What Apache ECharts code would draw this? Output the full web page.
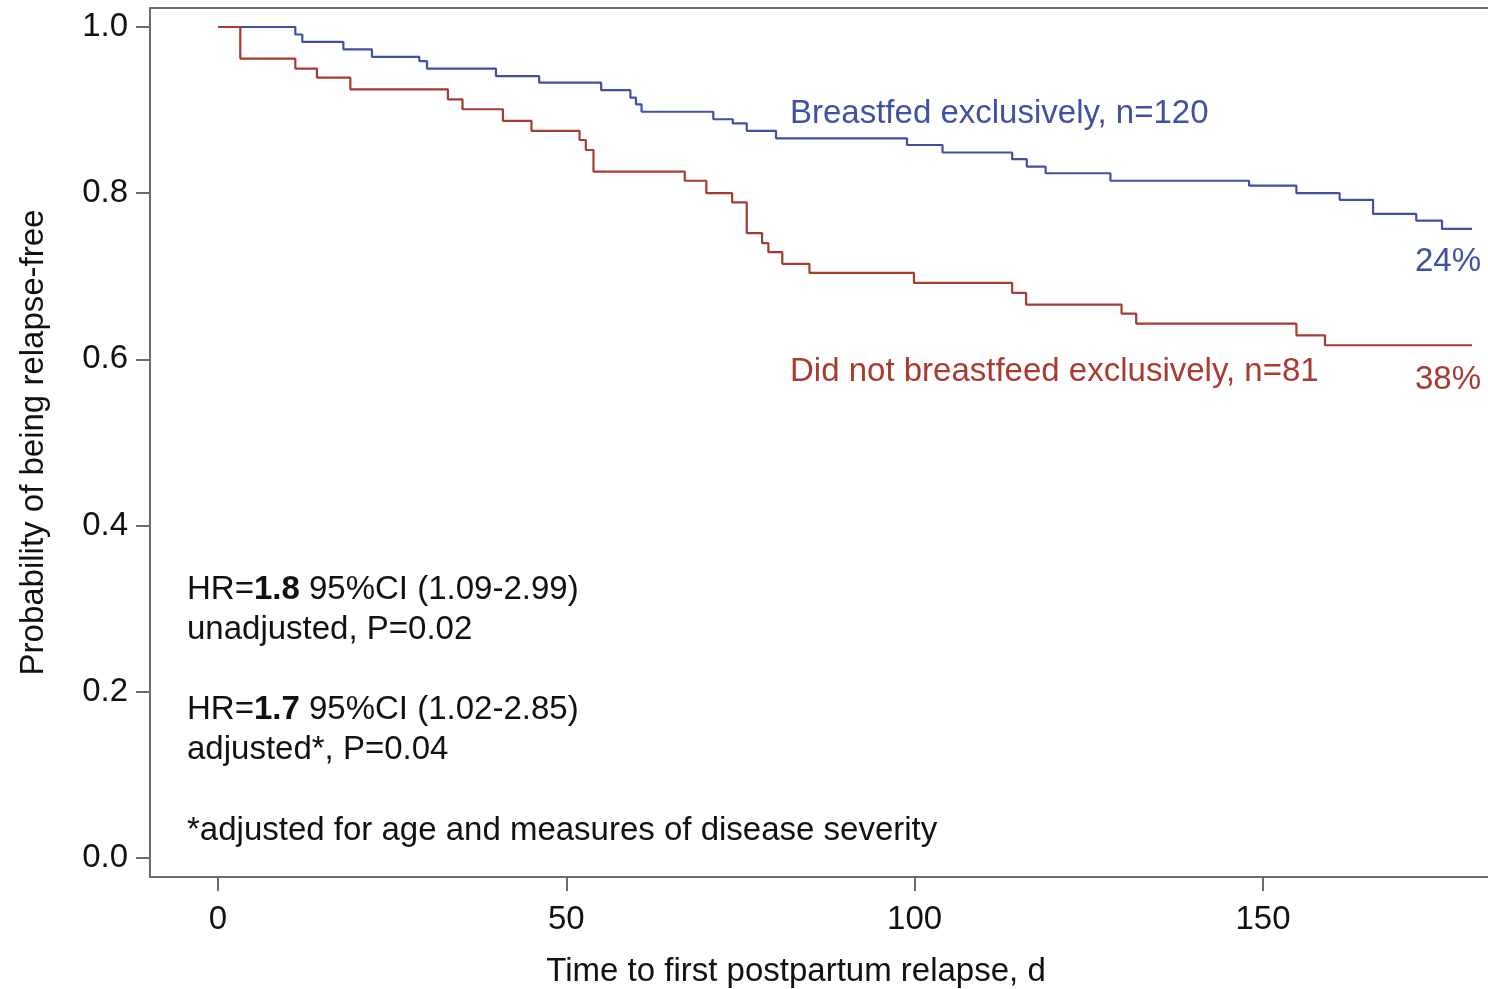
<!DOCTYPE html>
<html>
<head>
<meta charset="utf-8">
<script src="https://cdn.jsdelivr.net/npm/echarts@6/dist/echarts.min.js"></script>
<style>
  html, body { margin: 0; padding: 0; background: #fff; }
  #chart { width: 1488px; height: 989px; }
</style>
</head>
<body>
<div id="chart"></div>
<script>
// Kaplan-Meier steps (days, survival)
var blueDays = [0, 11.1, 12.1, 18, 22.1, 28.9, 30, 39.9, 46.1, 55, 59.2, 60, 60.8, 71.1, 73.9, 75.9, 80.1, 98.9, 104, 114, 116.1, 118.8, 128.1, 148, 154.8, 161, 165.8, 172, 175.7, 180];
var blueSurv = [1.0, 0.991, 0.982, 0.973, 0.964, 0.959, 0.950, 0.941, 0.933, 0.924, 0.915, 0.907, 0.898, 0.889, 0.884, 0.875, 0.866, 0.858, 0.849, 0.841, 0.832, 0.824, 0.815, 0.809, 0.800, 0.792, 0.775, 0.767, 0.757, 0.757];
var redDays = [0, 3.2, 11.1, 14.2, 19, 33, 35.1, 40.9, 45, 51.9, 52.8, 53.9, 67, 70.1, 73.8, 75.9, 78.1, 79, 81, 84.9, 99.9, 114, 116, 129.7, 131.8, 154.8, 158.9, 180];
var redSurv = [1.0, 0.962, 0.950, 0.939, 0.925, 0.913, 0.901, 0.887, 0.875, 0.864, 0.852, 0.826, 0.815, 0.800, 0.789, 0.752, 0.740, 0.729, 0.715, 0.704, 0.692, 0.680, 0.666, 0.655, 0.643, 0.629, 0.617, 0.617];
var xTicks = [0, 50, 100, 150];
var yTicks = [0, 0.2, 0.4, 0.6, 0.8, 1.0];

var BLUE = '#4050a3';
var RED = '#a83b2f';
var AXIS = '#6a6e73';
var FONT = '"Liberation Sans", Arial, sans-serif';

function pairs(xs, ys) {
  var out = [];
  for (var i = 0; i < xs.length; i++) out.push([xs[i], ys[i]]);
  return out;
}

var chart = echarts.init(document.getElementById('chart'));
var option = {
  animation: false,
  textStyle: { fontFamily: FONT },
  grid: { left: 150, right: 0, top: 8, bottom: 112 },
  xAxis: [
    {
      type: 'value',
      min: -9.76,
      max: 182.3,
      axisLine: { show: true, onZero: false, lineStyle: { color: AXIS, width: 2 } },
      axisTick: { show: true, length: 14, inside: false, customValues: xTicks, lineStyle: { color: AXIS, width: 2 } },
      axisLabel: { customValues: xTicks, fontSize: 33, color: '#111', margin: 26, fontFamily: FONT },
      splitLine: { show: false }
    },
    {
      type: 'value',
      position: 'top',
      min: -9.76,
      max: 182.3,
      axisLine: { show: true, onZero: false, lineStyle: { color: AXIS, width: 2 } },
      axisTick: { show: false },
      axisLabel: { show: false },
      splitLine: { show: false }
    }
  ],
  yAxis: {
    type: 'value',
    min: -0.02286,
    max: 1.02286,
    name: 'Probability of being relapse-free',
    nameLocation: 'middle',
    nameGap: 100,
    nameTextStyle: { fontSize: 33, color: '#111', fontFamily: FONT },
    axisLine: { show: true, onZero: false, lineStyle: { color: AXIS, width: 2 } },
    axisTick: { show: true, length: 14, customValues: yTicks, lineStyle: { color: AXIS, width: 2 } },
    axisLabel: {
      customValues: yTicks, fontSize: 33, color: '#111', margin: 22, fontFamily: FONT,
      formatter: function (v) { return v.toFixed(1); }
    },
    splitLine: { show: false }
  },
  series: [
    {
      name: 'Breastfed exclusively',
      type: 'line',
      step: 'end',
      symbol: 'none',
      data: pairs(blueDays, blueSurv),
      lineStyle: { color: BLUE, width: 2.2 }
    },
    {
      name: 'Did not breastfeed exclusively',
      type: 'line',
      step: 'end',
      symbol: 'none',
      data: pairs(redDays, redSurv),
      lineStyle: { color: RED, width: 2.2 }
    }
  ],
  graphic: [
    { type: 'text', x: 796, y: 972, style: { text: 'Time to first postpartum relapse, d', font: '33px ' + FONT, fill: '#111', align: 'center', verticalAlign: 'middle' } },
    { type: 'text', x: 790, y: 114, style: { text: 'Breastfed exclusively, n=120', font: '33px ' + FONT, fill: BLUE, verticalAlign: 'middle' } },
    { type: 'text', x: 1481, y: 262, style: { text: '24%', font: '33px ' + FONT, fill: BLUE, align: 'right', verticalAlign: 'middle' } },
    { type: 'text', x: 790, y: 372, style: { text: 'Did not breastfeed exclusively, n=81', font: '33px ' + FONT, fill: RED, verticalAlign: 'middle' } },
    { type: 'text', x: 1481, y: 380, style: { text: '38%', font: '33px ' + FONT, fill: RED, align: 'right', verticalAlign: 'middle' } },
    {
      type: 'text', x: 187, y: 590,
      style: {
        text: '{n|HR=}{b|1.8}{n| 95%CI (1.09-2.99)}', verticalAlign: 'middle',
        rich: {
          n: { fontSize: 33, fontFamily: FONT, fill: '#111' },
          b: { fontSize: 33, fontFamily: FONT, fontWeight: 'bold', fill: '#111' }
        }
      }
    },
    { type: 'text', x: 187, y: 630, style: { text: 'unadjusted, P=0.02', font: '33px ' + FONT, fill: '#111', verticalAlign: 'middle' } },
    {
      type: 'text', x: 187, y: 710,
      style: {
        text: '{n|HR=}{b|1.7}{n| 95%CI (1.02-2.85)}', verticalAlign: 'middle',
        rich: {
          n: { fontSize: 33, fontFamily: FONT, fill: '#111' },
          b: { fontSize: 33, fontFamily: FONT, fontWeight: 'bold', fill: '#111' }
        }
      }
    },
    { type: 'text', x: 187, y: 750, style: { text: 'adjusted*, P=0.04', font: '33px ' + FONT, fill: '#111', verticalAlign: 'middle' } },
    { type: 'text', x: 187, y: 831, style: { text: '*adjusted for age and measures of disease severity', font: '33px ' + FONT, fill: '#111', verticalAlign: 'middle' } }
  ]
};
chart.setOption(option);
</script>
</body>
</html>
